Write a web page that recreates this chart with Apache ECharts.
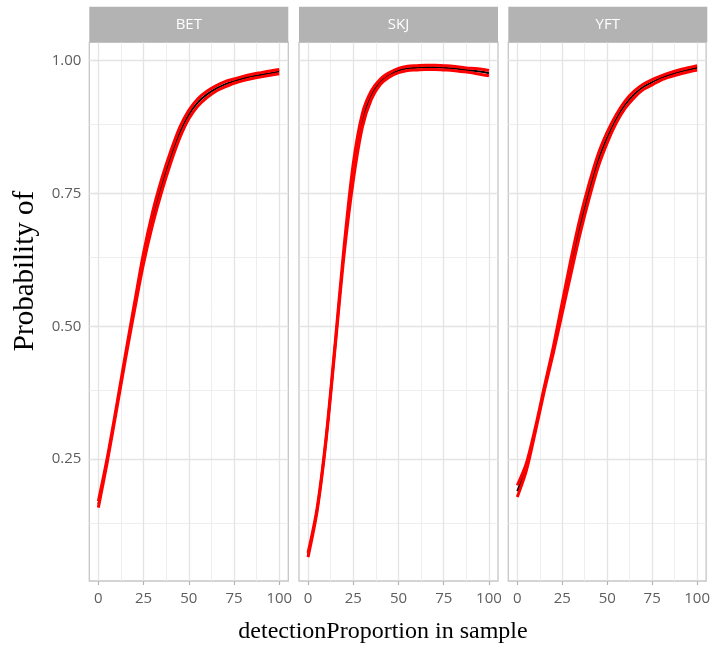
<!DOCTYPE html>
<html>
<head>
<meta charset="utf-8">
<script src="https://cdn.jsdelivr.net/npm/echarts@6/dist/echarts.min.js"></script>
<style>
  html, body { margin: 0; padding: 0; background: #ffffff; }
  #chart { width: 713px; height: 649px; }
</style>
</head>
<body>
<div id="chart"></div>
<script>
// Detection proportion in sample (x) and fitted probability with interval bounds per species
const proportion = [0, 5, 10, 15, 20, 25, 30, 35, 40, 45, 50, 55, 60, 65, 70, 75, 80, 85, 90, 95, 100];
const species = ['BET', 'SKJ', 'YFT'];

const betFit   = [0.165, 0.250, 0.345, 0.443, 0.537, 0.628, 0.703, 0.765, 0.818, 0.864, 0.898, 0.921, 0.936, 0.947, 0.955, 0.961, 0.966, 0.970, 0.973, 0.976, 0.979];
const betLower = [0.159, 0.246, 0.341, 0.438, 0.530, 0.618, 0.691, 0.753, 0.807, 0.854, 0.890, 0.914, 0.930, 0.942, 0.950, 0.957, 0.962, 0.966, 0.969, 0.972, 0.975];
const betUpper = [0.171, 0.254, 0.349, 0.448, 0.544, 0.638, 0.715, 0.777, 0.829, 0.874, 0.906, 0.928, 0.942, 0.952, 0.960, 0.965, 0.970, 0.974, 0.977, 0.980, 0.983];

const skjFit   = [0.070, 0.155, 0.289, 0.465, 0.645, 0.790, 0.887, 0.935, 0.960, 0.973, 0.981, 0.985, 0.986, 0.987, 0.987, 0.986, 0.985, 0.983, 0.981, 0.979, 0.976];
const skjLower = [0.066, 0.152, 0.286, 0.461, 0.637, 0.774, 0.874, 0.927, 0.955, 0.969, 0.977, 0.981, 0.982, 0.983, 0.983, 0.982, 0.981, 0.979, 0.977, 0.974, 0.971];
const skjUpper = [0.074, 0.158, 0.292, 0.469, 0.653, 0.806, 0.900, 0.943, 0.965, 0.977, 0.985, 0.989, 0.990, 0.991, 0.991, 0.990, 0.989, 0.987, 0.985, 0.984, 0.981];

const yftFit   = [0.190, 0.235, 0.305, 0.382, 0.455, 0.535, 0.615, 0.690, 0.755, 0.812, 0.855, 0.890, 0.917, 0.936, 0.950, 0.959, 0.967, 0.973, 0.978, 0.982, 0.986];
const yftLower = [0.179, 0.228, 0.301, 0.378, 0.449, 0.525, 0.601, 0.675, 0.741, 0.800, 0.845, 0.882, 0.910, 0.930, 0.945, 0.954, 0.963, 0.969, 0.974, 0.978, 0.982];
const yftUpper = [0.201, 0.242, 0.309, 0.386, 0.461, 0.545, 0.629, 0.705, 0.769, 0.824, 0.865, 0.898, 0.924, 0.942, 0.955, 0.964, 0.971, 0.977, 0.982, 0.986, 0.990];

const yTicks = [0.25, 0.50, 0.75, 1.00];
const yMinor = [0.125, 0.375, 0.625, 0.875];
const xTicks = [0, 25, 50, 75, 100];
const xMinor = [12.5, 37.5, 62.5, 87.5];

const fits = [betFit, skjFit, yftFit];
const lowers = [betLower, skjLower, yftLower];
const uppers = [betUpper, skjUpper, yftUpper];

// Facet geometry
const panelLeft = [89.3, 299, 508.3];
const panelWidth = 199;
const panelTop = 42.3;
const panelHeight = 538.7;
const stripTop = 6.7;

const grey70 = '#b3b3b3';
const tickText = '#5e5e5e';
const sansFont = '"Open Sans", "Noto Sans", sans-serif';
const serifFont = '"Liberation Serif", "DejaVu Serif", serif';

const pairs = (ys) => proportion.map((x, i) => [x, ys[i]]);

const grids = [], xAxes = [], yAxes = [], series = [], graphics = [];

species.forEach((name, k) => {
  grids.push({
    left: panelLeft[k], top: panelTop, width: panelWidth, height: panelHeight,
    show: true, borderColor: '#c6c6c6', borderWidth: 1.3, backgroundColor: '#ffffff'
  });
  xAxes.push({
    type: 'value', gridIndex: k, min: -5, max: 105,
    axisLine: { show: false },
    splitLine: { show: false },
    axisTick: { show: true, customValues: xTicks, length: 4, lineStyle: { color: grey70, width: 1.2 } },
    axisLabel: { show: true, customValues: xTicks, margin: 10, color: tickText, fontFamily: sansFont, fontSize: 15 }
  });
  yAxes.push({
    type: 'value', gridIndex: k, min: 0.021, max: 1.034,
    axisLine: { show: false },
    splitLine: { show: false },
    axisTick: { show: k === 0, customValues: yTicks, length: 4, lineStyle: { color: grey70, width: 1.2 } },
    axisLabel: {
      show: k === 0, customValues: yTicks, margin: 8, color: tickText, fontFamily: sansFont, fontSize: 15,
      formatter: (v) => v.toFixed(2)
    }
  });

  // panel grid lines, drawn through the axes' scales, kept beneath the curves
  const major = { color: '#e4e4e4', width: 1.3, type: 'solid' };
  const minor = { color: '#eeeeee', width: 1, type: 'solid' };
  const gridData = []
    .concat(yMinor.map(v => ({ yAxis: v, lineStyle: minor })))
    .concat(xMinor.map(v => ({ xAxis: v, lineStyle: minor })))
    .concat(yTicks.map(v => ({ yAxis: v, lineStyle: major })))
    .concat(xTicks.map(v => ({ xAxis: v, lineStyle: major })));
  series.push({
    type: 'scatter', xAxisIndex: k, yAxisIndex: k, data: [], silent: true, z: 1,
    markLine: { z: 1, silent: true, symbol: ['none', 'none'], label: { show: false }, animation: false, data: gridData }
  });

  // fitted curve
  series.push({
    name: name + ' fit', type: 'line', xAxisIndex: k, yAxisIndex: k, data: pairs(fits[k]),
    smooth: 0.3, showSymbol: false, symbol: 'none', z: 6,
    lineStyle: { color: '#000000', width: 2 }
  });
  // interval bounds
  [lowers[k], uppers[k]].forEach((b) => {
    series.push({
      type: 'line', xAxisIndex: k, yAxisIndex: k, data: pairs(b),
      smooth: 0.3, showSymbol: false, symbol: 'none', z: 7,
      lineStyle: { color: '#ff0000', width: 3 }
    });
  });

  // facet strip
  graphics.push({
    type: 'rect', z: 10,
    shape: { x: panelLeft[k], y: stripTop, width: panelWidth, height: panelTop - stripTop },
    style: { fill: grey70 }
  });
  graphics.push({
    type: 'text', z: 11,
    x: panelLeft[k] + panelWidth / 2, y: (stripTop + panelTop) / 2,
    style: { text: name, fill: '#ffffff', font: '15px ' + sansFont, textAlign: 'center', textVerticalAlign: 'middle' }
  });
});

// axis titles
graphics.push({
  type: 'text', z: 11, x: 383, y: 632,
  style: { text: 'detectionProportion in sample', fill: '#000000', font: '24px ' + serifFont, textAlign: 'center', textVerticalAlign: 'middle' }
});
graphics.push({
  type: 'text', z: 11, x: 25, y: 271, rotation: Math.PI / 2,
  style: { text: 'Probability of', fill: '#000000', font: '29px ' + serifFont, textAlign: 'center', textVerticalAlign: 'middle' }
});

const chart = echarts.init(document.getElementById('chart'), null, { renderer: 'canvas' });
chart.setOption({
  animation: false,
  backgroundColor: '#ffffff',
  grid: grids,
  xAxis: xAxes,
  yAxis: yAxes,
  series: series,
  graphic: graphics
});
</script>
</body>
</html>
